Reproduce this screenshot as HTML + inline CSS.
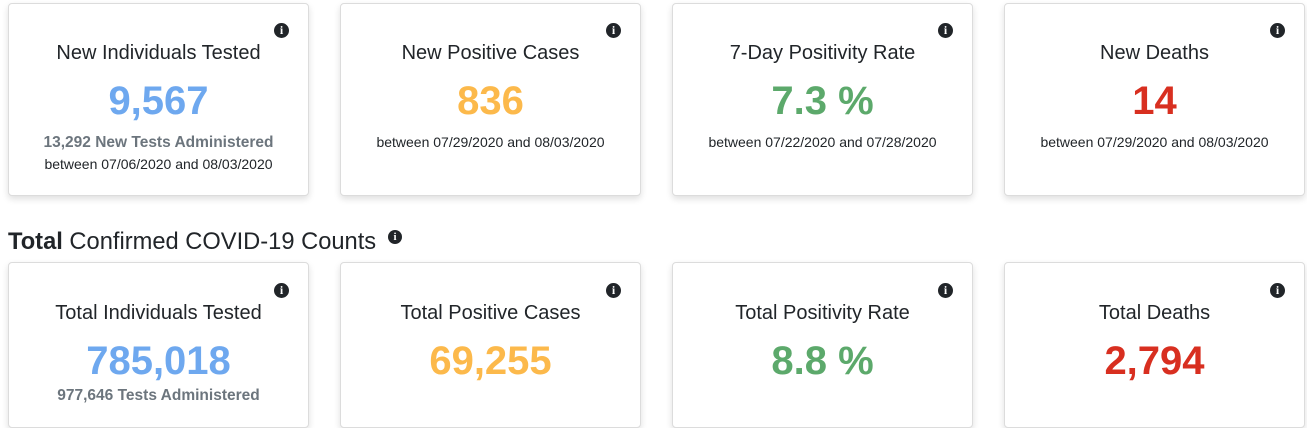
<!DOCTYPE html>
<html><head><meta charset="utf-8">
<style>
html,body{margin:0;padding:0;background:#fff;}
body{width:1307px;height:428px;position:relative;overflow:hidden;font-family:"Liberation Sans",Arial,sans-serif;color:#212529;}
.card{position:absolute;width:299px;border:1px solid #dcdcdc;border-radius:4px;background:#fff;box-shadow:0 3px 7px rgba(0,0,0,0.13);}
.r1{top:3px;height:191px;}
.r2{top:262px;height:164px;}
.t{position:absolute;left:0;width:100%;text-align:center;white-space:nowrap;line-height:1;}
.title{font-size:20px;}
.num{font-size:40px;font-weight:bold;}
.sub{font-size:15.5px;font-weight:bold;color:#6c757d;}
.btw{font-size:14px;}
.info{position:absolute;width:15px;height:15px;border-radius:50%;background:#212529;color:#fff;font-family:"Liberation Serif",serif;font-weight:bold;font-size:12px;line-height:15px;text-align:center;}
.blue{color:#6ea8ef;}
.orange{color:#fcb94b;}
.green{color:#5ca96b;}
.red{color:#d82f20;}
.head{position:absolute;left:8px;top:231px;font-size:23.7px;line-height:1;white-space:nowrap;}
</style></head><body>

<!-- Row 1 -->
<div class="card r1" style="left:8px;">
  <div class="info" style="left:265px;top:19px;">i</div>
  <div class="t title" style="top:39px;">New Individuals Tested</div>
  <div class="t num blue" style="top:77px;">9,567</div>
  <div class="t sub" style="top:131px;">13,292 New Tests Administered</div>
  <div class="t btw" style="top:153px;">between 07/06/2020 and 08/03/2020</div>
</div>
<div class="card r1" style="left:340px;">
  <div class="info" style="left:265px;top:19px;">i</div>
  <div class="t title" style="top:39px;">New Positive Cases</div>
  <div class="t num orange" style="top:77px;">836</div>
  <div class="t btw" style="top:131px;">between 07/29/2020 and 08/03/2020</div>
</div>
<div class="card r1" style="left:672px;">
  <div class="info" style="left:265px;top:19px;">i</div>
  <div class="t title" style="top:39px;">7-Day Positivity Rate</div>
  <div class="t num green" style="top:77px;">7.3 %</div>
  <div class="t btw" style="top:131px;">between 07/22/2020 and 07/28/2020</div>
</div>
<div class="card r1" style="left:1004px;">
  <div class="info" style="left:265px;top:19px;">i</div>
  <div class="t title" style="top:39px;">New Deaths</div>
  <div class="t num red" style="top:77px;">14</div>
  <div class="t btw" style="top:131px;">between 07/29/2020 and 08/03/2020</div>
</div>

<!-- Heading -->
<div class="head"><b>Total</b> Confirmed COVID-19 Counts</div>
<div class="info" style="left:388px;top:230px;width:14px;height:14px;line-height:14px;font-size:11px;">i</div>

<!-- Row 2 -->
<div class="card r2" style="left:8px;">
  <div class="info" style="left:265px;top:20px;">i</div>
  <div class="t title" style="top:40px;">Total Individuals Tested</div>
  <div class="t num blue" style="top:77.5px;">785,018</div>
  <div class="t sub" style="top:125px;">977,646 Tests Administered</div>
</div>
<div class="card r2" style="left:340px;">
  <div class="info" style="left:265px;top:20px;">i</div>
  <div class="t title" style="top:40px;">Total Positive Cases</div>
  <div class="t num orange" style="top:77.5px;">69,255</div>
</div>
<div class="card r2" style="left:672px;">
  <div class="info" style="left:265px;top:20px;">i</div>
  <div class="t title" style="top:40px;">Total Positivity Rate</div>
  <div class="t num green" style="top:77.5px;">8.8 %</div>
</div>
<div class="card r2" style="left:1004px;">
  <div class="info" style="left:265px;top:20px;">i</div>
  <div class="t title" style="top:40px;">Total Deaths</div>
  <div class="t num red" style="top:77.5px;">2,794</div>
</div>

</body></html>
